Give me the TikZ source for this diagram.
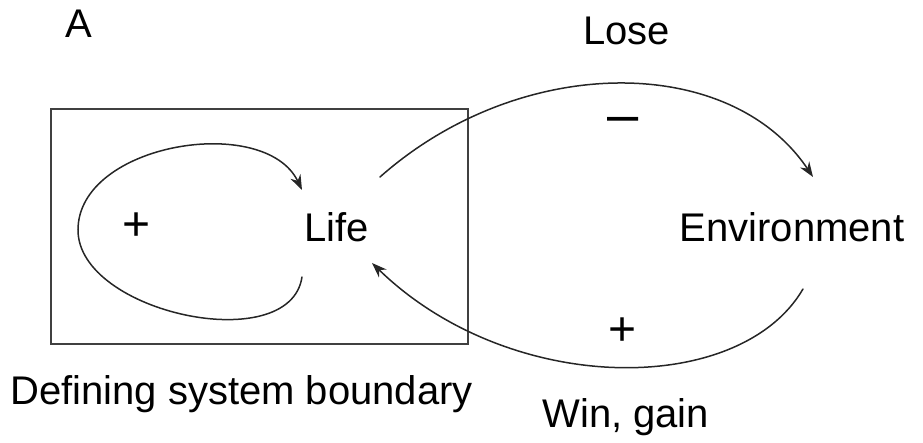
\documentclass[tikz,border=0pt]{standalone}
\usepackage{fontspec}
\setmainfont{Liberation Sans}
\usetikzlibrary{arrows.meta}
\tikzset{
  lbl/.style={font=\fontsize{20}{24}\selectfont,inner sep=0pt},
  sgn/.style={font=\fontsize{24}{28}\selectfont,inner sep=0pt},
  flow/.style={->,black!85,line width=.75pt},
}
\begin{document}
\begin{tikzpicture}[x=.5pt,y=.5pt,>={Stealth[length=7.5pt,width=5.5pt]},line cap=round]
  \useasboundingbox (0,0) rectangle (923,443);
  % system boundary
  \draw[black!75,line width=.75pt] (51,99) rectangle (468,334);
  \node[lbl,anchor=base west] (tag) at (65,405) {A};
  \node[lbl] (life) at (337,216) {Life};
  \node[lbl] (env) at (792,216) {Environment};
  \node[lbl,anchor=base west] (lose) at (583,398) {Lose};
  \node[lbl,anchor=base west] (win) at (542,15) {Win, gain};
  \node[lbl,anchor=base west] (bound) at (10,38) {Defining system boundary};
  \node[sgn] (self) at (137,216) {+};
  \node[sgn,font=\fontsize{28}{32}\selectfont] (neg) at (623,318) {\textendash};
  \node[sgn] (pos) at (623,111) {+};
  % self-reinforcing loop
  \draw[flow] ([shift={(-35,-50)}]life.center)
    .. controls (290,85) and (78,130) .. (78,213)
    .. controls (78,300) and (265,330) .. ([shift={(-35,37)}]life.center);
  % life -> environment
  \draw[flow] ([shift={(43,50)}]life.center)
    .. controls (520,390) and (730,390) .. ([shift={(21,50)}]env.center);
  % environment -> life
  \draw[flow] ([shift={(11,-62)}]env.center)
    .. controls (740,46) and (510,46) .. ([shift={(35,-36)}]life.center);
\end{tikzpicture}
\end{document}
